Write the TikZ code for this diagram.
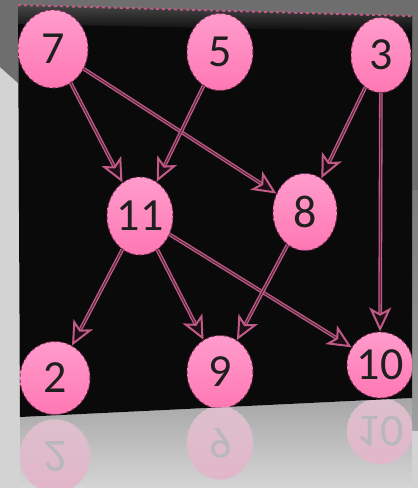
\documentclass[tikz,border=0pt]{standalone}
\usepackage{fontspec}
\setmainfont{Carlito}
\usetikzlibrary{arrows.meta,shapes.geometric}
\definecolor{nodepink}{HTML}{FF78B4}
\definecolor{nodelight}{HTML}{FF9CCB}
\definecolor{nodeedge}{HTML}{7A2A52}
\definecolor{linkpink}{HTML}{C25A88}
\definecolor{bgdark}{HTML}{6E6E6E}
\definecolor{bglight}{HTML}{D3D3D3}
\begin{document}
\begin{tikzpicture}[x=1pt,y=-1pt,
vertex/.style={ellipse,draw=nodeedge,dashed,line width=1pt,top color=nodelight,bottom color=nodepink,minimum width=66pt,minimum height=77pt,inner sep=0pt,font=\fontsize{46}{46}\selectfont,text=black!88},
mirror/.style={vertex,yscale=-1,draw=white!70!nodeedge,top color=nodepink!22!bglight,bottom color=nodepink!32!bglight,text=black!28},
link/.style={-{Stealth[length=24pt,width=22pt,inset=6pt,fill=black!85!linkpink,line width=2pt]},draw=linkpink,line width=1.3pt,double=black!55!linkpink,double distance=1.1pt}]
\useasboundingbox (0,0) rectangle (418,488);
\fill[bglight] (0,0) rectangle (418,488);
\fill[bgdark] (0,0) -- (418,0) -- (418,190) -- (412,190) -- (412,16) -- (18,5) -- (18,83) -- (0,67) -- cycle;
\shade[top color=bgdark!90!white,bottom color=gray!75] (412,190) rectangle (418,430);
\shade[top color=gray!70,bottom color=bglight!95!white] (20,417) -- (412,398) -- (412,488) -- (20,488) -- cycle;
\begin{scope}
\clip (20,417) -- (412,398) -- (412,488) -- (20,488) -- cycle;
\node[mirror,minimum width=70pt,minimum height=73pt] (r2) at (55,456) {2};
\node[mirror,minimum height=73pt] (r9) at (220,443) {9};
\node[mirror,minimum width=60pt,minimum height=66pt] (r10) at (380,431) {10};
\end{scope}
\fill[black!96] (18,5) -- (412,16) -- (412,398) -- (20,417) -- cycle;
\shade[top color=gray!55!black,bottom color=black!96] (18,5) -- (412,16) -- (412,32) -- (18,24) -- cycle;
\begin{scope}
\clip (18,5) -- (412,16) -- (412,398) -- (20,417) -- cycle;
\node[vertex,minimum width=70pt,minimum height=78pt] (n7) at (53,49) {7};
\node[vertex] (n5) at (220,52) {5};
\node[vertex,minimum width=60pt,minimum height=75pt] (n3) at (381,55) {3};
\node[vertex,minimum height=78pt] (n11) at (140,216) {11};
\node[vertex,minimum width=64pt] (n8) at (305,212) {8};
\node[vertex,minimum width=70pt,minimum height=73pt] (n2) at (55,378) {2};
\node[vertex,minimum height=73pt] (n9) at (220,372) {9};
\node[vertex,minimum width=60pt,minimum height=66pt] (n10) at (380,365) {10};
\draw[link] (n7) -- (n11);
\draw[link] (n7) -- (n8);
\draw[link] (n5) -- (n11);
\draw[link] (n3) -- (n8);
\draw[link] (n3) -- (n10);
\draw[link] (n11) -- (n2);
\draw[link] (n11) -- (n9);
\draw[link] (n11) -- (n10);
\draw[link] (n8) -- (n9);
\end{scope}
\draw[linkpink,line width=2pt,dashed] (18,5) -- (412,16);
\end{tikzpicture}
\end{document}
